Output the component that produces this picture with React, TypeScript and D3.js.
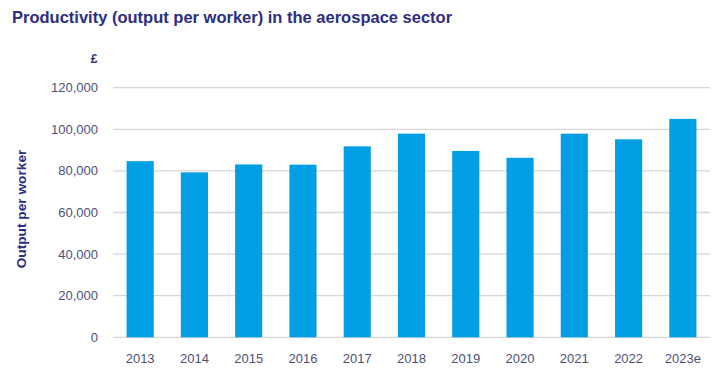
import React from "react";
import * as d3 from "d3";

const categories = ["2013", "2014", "2015", "2016", "2017", "2018", "2019", "2020", "2021", "2022", "2023e"];
const values = [84700, 79300, 83100, 83000, 91800, 97900, 89600, 86300, 97900, 95200, 105000];
const yTicks = [0, 20000, 40000, 60000, 80000, 100000, 120000];

const W = 725;
const H = 381;

export default function App() {
  const x = d3.scaleBand<string>().domain(categories).range([113, 710]).paddingInner(0.5).paddingOuter(0.25);
  const y = d3.scaleLinear().domain([0, 120000]).range([337.3, 87.7]);
  const fmt = d3.format(",");
  const navy = "#2b2e83";
  const tickColor = "#4e5078";
  const font = "'Liberation Sans', Arial, sans-serif";
  return (
    <svg width={W} height={H} style={{ position: "absolute", left: 0, top: 0, background: "#fff" }} fontFamily={font}>
      <text x={12} y={23} fontSize={16.5} fontWeight="bold" fill={navy}>
        Productivity (output per worker) in the aerospace sector
      </text>
      <text x={94} y={63} fontSize={12} fontWeight="bold" fill={navy} textAnchor="middle">£</text>
      {yTicks.map((t) => (
        <g key={t}>
          <line x1={113} x2={710} y1={y(t)} y2={y(t)} stroke="#d6d6d6" strokeWidth={1.3} />
          <text x={98} y={y(t)} dy="0.35em" textAnchor="end" fontSize={13} fill={tickColor}>
            {fmt(t)}
          </text>
        </g>
      ))}
      {categories.map((c, i) => (
        <rect key={c} x={x(c)} y={y(values[i])} width={x.bandwidth()} height={y(0) - y(values[i])} fill="#009fe3" />
      ))}
      {categories.map((c) => (
        <text key={c} x={(x(c) as number) + x.bandwidth() / 2} y={363} textAnchor="middle" fontSize={13} fill={tickColor}>
          {c}
        </text>
      ))}
      <text transform="translate(26,209) rotate(-90)" textAnchor="middle" fontSize={13.7} fontWeight="bold" fill={navy}>
        Output per worker
      </text>
    </svg>
  );
}
